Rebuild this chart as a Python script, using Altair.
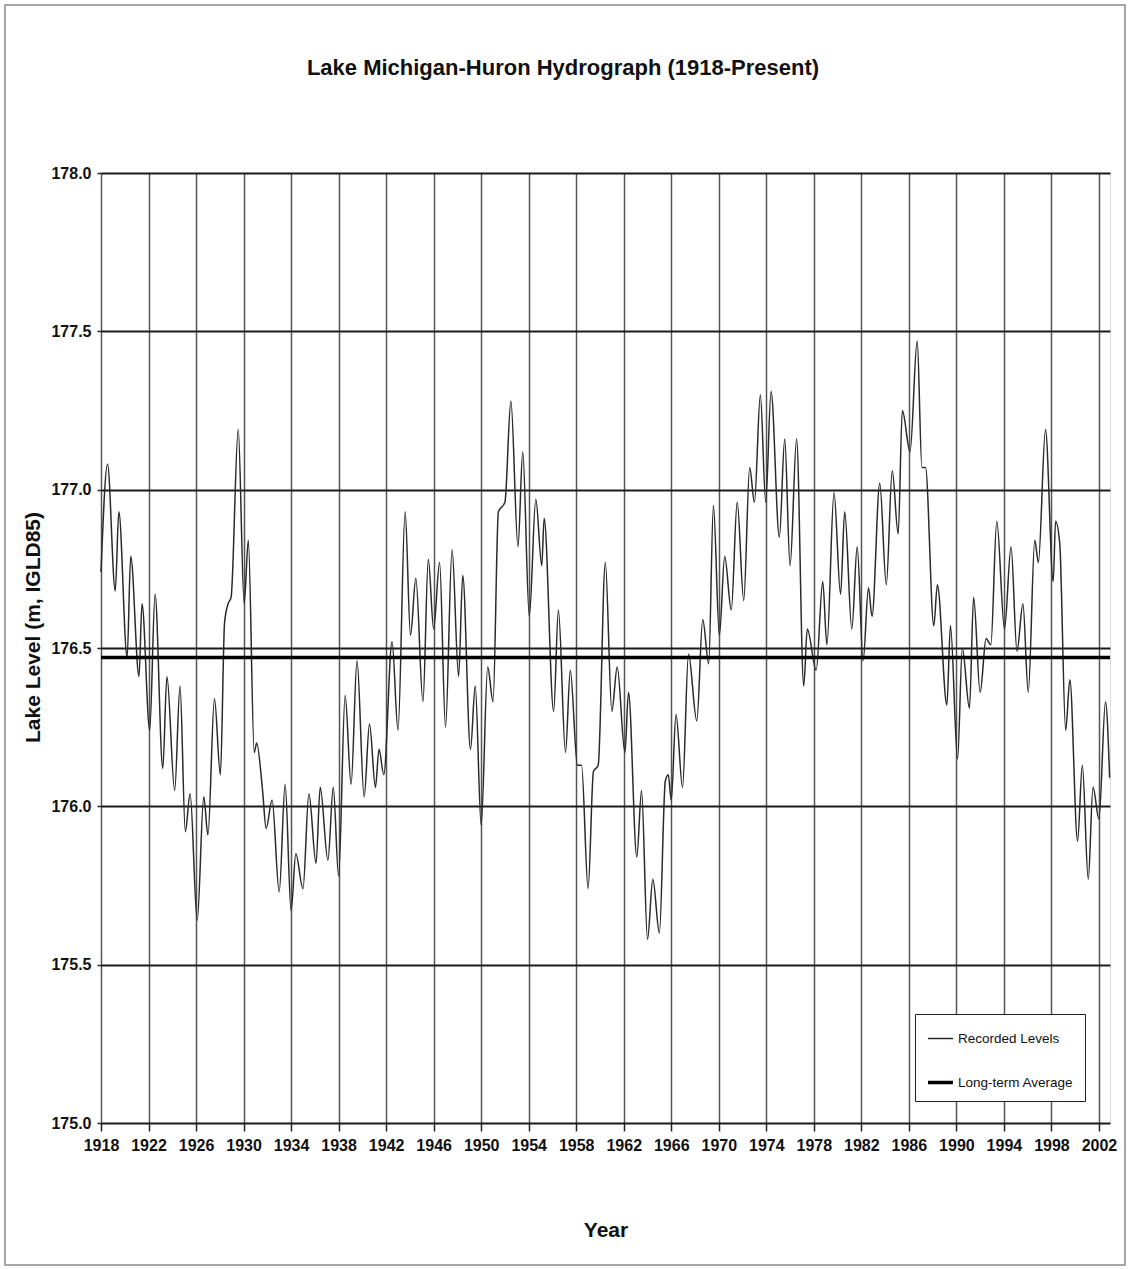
import altair as alt
import pandas as pd

# Recorded lake levels at seasonal highs and lows (decimal year, metres IGLD85)
years = [
    1918.0, 1918.55, 1919.2, 1919.5, 1920.2, 1920.5, 1921.2, 1921.45, 1922.1, 1922.55,
    1923.2, 1923.55, 1924.2, 1924.65, 1925.1, 1925.5, 1926.1, 1926.65, 1927.0, 1927.55,
    1928.05, 1928.4, 1928.7, 1928.95, 1929.55, 1930.05, 1930.4, 1930.9, 1931.1, 1931.6,
    1931.9, 1932.4, 1933.0, 1933.5, 1934.0, 1934.4, 1935.0, 1935.5, 1936.1, 1936.45,
    1937.1, 1937.55, 1938.0, 1938.55, 1939.05, 1939.55, 1940.15, 1940.6, 1941.1, 1941.4,
    1941.8, 1942.5, 1943.0, 1943.6, 1944.05, 1944.5, 1945.1, 1945.55, 1946.0, 1946.5,
    1947.0, 1947.55, 1948.1, 1948.45, 1949.1, 1949.5, 1950.0, 1950.55, 1951.0, 1951.45,
    1952.0, 1952.5, 1953.1, 1953.5, 1954.05, 1954.6, 1955.1, 1955.3, 1956.1, 1956.5,
    1957.1, 1957.5, 1958.1, 1958.45, 1959.0, 1959.45, 1959.85, 1960.45, 1961.0, 1961.45,
    1962.1, 1962.4, 1963.1, 1963.5, 1964.0, 1964.45, 1965.0, 1965.5, 1965.75, 1966.0,
    1966.4, 1966.95, 1967.45, 1968.15, 1968.65, 1969.15, 1969.55, 1970.05, 1970.5, 1971.05,
    1971.55, 1972.1, 1972.6, 1973.0, 1973.5, 1973.95, 1974.4, 1975.1, 1975.55, 1976.0,
    1976.55, 1977.15, 1977.45, 1978.2, 1978.75, 1979.1, 1979.7, 1980.25, 1980.6, 1981.2,
    1981.65, 1982.15, 1982.6, 1982.9, 1983.55, 1984.1, 1984.6, 1985.1, 1985.45, 1986.1,
    1986.7, 1987.1, 1987.4, 1988.1, 1988.4, 1989.2, 1989.5, 1990.1, 1990.5, 1991.1,
    1991.45, 1992.0, 1992.5, 1992.9, 1993.4, 1994.05, 1994.6, 1995.1, 1995.6, 1996.05,
    1996.6, 1996.9, 1997.5, 1998.15, 1998.35, 1998.7, 1999.2, 1999.55, 2000.2, 2000.6,
    2001.1, 2001.5, 2002.0, 2002.55, 2002.9,
]
levels = [
    176.74, 177.08, 176.68, 176.93, 176.47, 176.79, 176.41, 176.64, 176.24, 176.67,
    176.12, 176.41, 176.05, 176.38, 175.92, 176.04, 175.64, 176.03, 175.91, 176.34,
    176.10, 176.58, 176.64, 176.66, 177.19, 176.64, 176.84, 176.17, 176.20, 176.05,
    175.93, 176.02, 175.73, 176.07, 175.67, 175.85, 175.74, 176.04, 175.82, 176.06,
    175.83, 176.06, 175.78, 176.35, 176.07, 176.46, 176.03, 176.26, 176.06, 176.18,
    176.10, 176.52, 176.24, 176.93, 176.54, 176.72, 176.33, 176.78, 176.56, 176.77,
    176.25, 176.81, 176.41, 176.73, 176.18, 176.38, 175.94, 176.44, 176.33, 176.93,
    176.96, 177.28, 176.82, 177.12, 176.60, 176.97, 176.76, 176.91, 176.30, 176.62,
    176.17, 176.43, 176.13, 176.13, 175.74, 176.11, 176.13, 176.77, 176.30, 176.44,
    176.17, 176.36, 175.84, 176.05, 175.58, 175.77, 175.60, 176.08, 176.10, 176.02,
    176.29, 176.06, 176.48, 176.27, 176.59, 176.45, 176.95, 176.54, 176.79, 176.62,
    176.96, 176.65, 177.07, 176.96, 177.30, 176.96, 177.31, 176.85, 177.16, 176.76,
    177.16, 176.38, 176.56, 176.43, 176.71, 176.51, 176.99, 176.67, 176.93, 176.56,
    176.82, 176.46, 176.69, 176.60, 177.02, 176.70, 177.06, 176.86, 177.25, 177.12,
    177.47, 177.07, 177.07, 176.57, 176.70, 176.32, 176.57, 176.15, 176.50, 176.31,
    176.66, 176.36, 176.53, 176.51, 176.90, 176.56, 176.82, 176.49, 176.64, 176.36,
    176.84, 176.77, 177.19, 176.71, 176.90, 176.83, 176.24, 176.40, 175.89, 176.13,
    175.77, 176.06, 175.96, 176.33, 176.09,
]

long_term_average = 176.47
x_domain = [1918.0, 2002.93]
year_ticks = list(range(1918, 2003, 4))
level_ticks = [175.0, 175.5, 176.0, 176.5, 177.0, 177.5, 178.0]
series_names = ["Recorded Levels", "Long-term Average"]
chart_title = "Lake Michigan-Huron Hydrograph (1918-Present)"

recorded = pd.DataFrame({"year": years, "level": levels, "series": series_names[0]})
average = pd.DataFrame({
    "year": x_domain,
    "level": [long_term_average, long_term_average],
    "series": series_names[1],
})
data = pd.concat([recorded, average], ignore_index=True)

FONT = "Liberation Sans, Arial, sans-serif"
INK = "#111111"

x_enc = alt.X(
    "year:Q",
    scale=alt.Scale(domain=x_domain, nice=False, zero=False),
    axis=alt.Axis(
        values=year_ticks, format="d", title="Year",
        grid=True, gridColor="#555555", gridWidth=1.5,
        domain=False, tickColor="#222222", tickSize=8, tickWidth=1.5,
        labelFont=FONT, labelFontSize=16, labelFontWeight="bold", labelColor=INK,
        labelPadding=6, labelFlush=False, labelOverlap=False,
        titleFont=FONT, titleFontSize=21, titleFontWeight="bold", titleColor=INK,
        titlePadding=66,
    ),
)
y_enc = alt.Y(
    "level:Q",
    scale=alt.Scale(domain=[175.0, 178.0], nice=False, zero=False),
    axis=alt.Axis(
        values=level_ticks, format=".1f", title="Lake Level (m, IGLD85)",
        grid=True, gridColor="#1a1a1a", gridWidth=2,
        domain=False, tickColor="#222222", tickSize=4, tickWidth=1.5,
        labelFont=FONT, labelFontSize=16, labelFontWeight="bold", labelColor=INK,
        labelPadding=6,
        titleFont=FONT, titleFontSize=21, titleFontWeight="bold", titleColor=INK,
        titlePadding=7, titleY=454,
    ),
)

lines = alt.Chart(data).mark_line(interpolate="monotone").encode(
    x=x_enc,
    y=y_enc,
    detail="series:N",
    color=alt.Color(
        "series:N",
        scale=alt.Scale(domain=series_names, range=["#2a2a2a", "#000000"]),
        legend=alt.Legend(
            title=None, orient="none", legendX=814, legendY=841,
            direction="vertical", symbolType="stroke", symbolSize=625,
            labelFont=FONT, labelFontSize=13.5, labelColor=INK,
            strokeColor="#222222", fillColor="white", padding=11,
            rowPadding=23, labelOffset=3,
        ),
    ),
    strokeWidth=alt.StrokeWidth(
        "series:N",
        scale=alt.Scale(domain=series_names, range=[1.5, 3.5]),
        legend=alt.Legend(title=None, orient="none", legendX=814, legendY=841),
    ),
    order=alt.Order("year:Q"),
)

# Thin grey frame around the whole figure
frame = alt.Chart(pd.DataFrame({"k": [0]})).mark_rect(
    fill="transparent", stroke="#8a8a8a", strokeWidth=1.5
).encode(
    x=alt.value(-96), x2=alt.value(1024), y=alt.value(-168), y2=alt.value(1092)
)

# Chart heading drawn as a text mark above the plot
heading = alt.Chart(pd.DataFrame({"t": [chart_title]})).mark_text(
    font=FONT, fontSize=22, fontWeight="bold", color=INK,
    align="center", baseline="middle",
).encode(
    text="t:N", x=alt.value(462), y=alt.value(-105)
)

chart = alt.layer(frame, heading, lines).properties(
    width=1009,
    height=950,
    padding={"left": 101, "top": 173, "right": 20, "bottom": 146},
    autosize=alt.AutoSizeParams(type="none"),
).configure_view(
    stroke="#111111", strokeWidth=1.5
).configure(background="white")

chart.save("out.html", embed_options={"renderer": "svg", "actions": False})
